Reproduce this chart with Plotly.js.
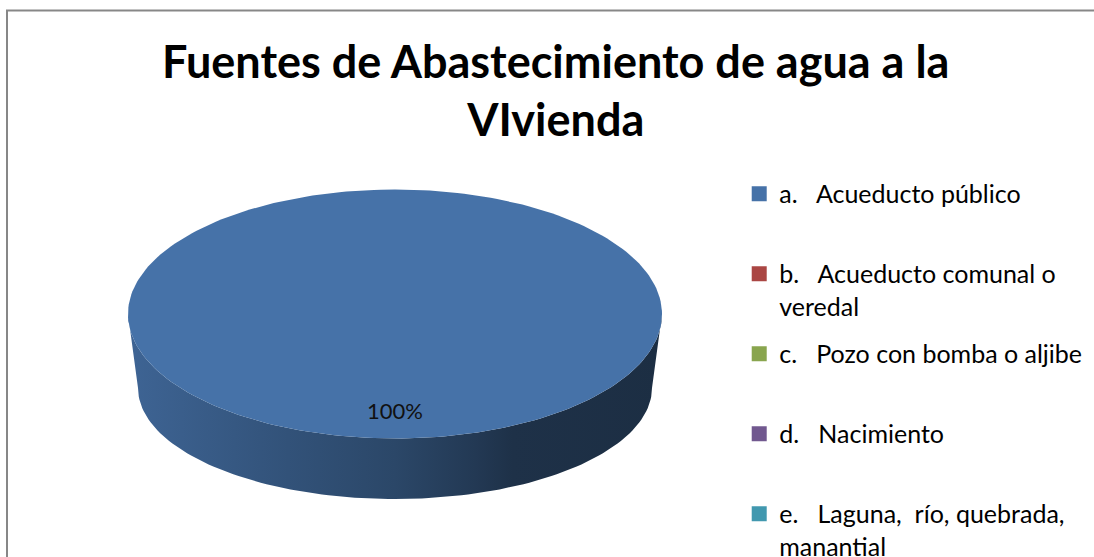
<!DOCTYPE html>
<html><head><meta charset="utf-8">
<script src="https://cdn.plot.ly/plotly-3.0.1.min.js"></script>
<style>html,body{margin:0;padding:0;background:#fff;} #chart{width:1094px;height:557px;}</style>
</head><body><div id="chart"></div>
<script>
// ---- data ----
const categories = [
  "a.\u00a0\u00a0\u00a0Acueducto público",
  "b.\u00a0\u00a0\u00a0Acueducto comunal o<br>veredal",
  "c.\u00a0\u00a0\u00a0Pozo con bomba o aljibe",
  "d.\u00a0\u00a0\u00a0Nacimiento",
  "e.\u00a0\u00a0\u00a0Laguna,\u00a0\u00a0río, quebrada,<br>manantial"
];
const values = [100, 0, 0, 0, 0];
const colors = ["#4672A8", "#AA4643", "#89A54E", "#71588F", "#4198AF"];
const titleText = "Fuentes de Abastecimiento de agua a la<br>VIvienda";

// ---- geometry of the 3D pie (pixel-like axis units) ----
const topE = {cx: 395, cy: 314, rx: 267, ry: 124.5};
const botE = {cx: 395, cy: 388, rx: 257, ry: 111};

function pt(e, deg, f) {
  const t = deg * Math.PI / 180; f = f || 1;
  return [e.cx + f * e.rx * Math.sin(t), e.cy - f * e.ry * Math.cos(t)];
}
function arc(e, a, b) {
  const n = Math.max(2, Math.ceil(Math.abs(b - a) / 1.5));
  const xs = [], ys = [];
  for (let i = 0; i <= n; i++) { const p = pt(e, a + (b - a) * i / n); xs.push(p[0]); ys.push(p[1]); }
  return [xs, ys];
}
function shade(hex, f) {
  const r = parseInt(hex.slice(1,3),16), g = parseInt(hex.slice(3,5),16), b = parseInt(hex.slice(5,7),16);
  return `rgb(${Math.round(r*f)},${Math.round(g*f)},${Math.round(b*f)})`;
}
const wallStops = [[0,0.88],[0.3,0.72],[0.5,0.62],[0.65,0.5],[0.72,0.43],[1,0.40]];

const total = values.reduce((s,v)=>s+v,0);
const traces = [];
let acc = 0;
const labelX = [], labelY = [], labelT = [];
values.forEach((v, i) => {
  if (v <= 0) return;
  const a = acc / total * 360, b = (acc + v) / total * 360;
  acc += v;
  // front wall
  const s = Math.max(a, 90), e = Math.min(b, 270);
  if (s < e) {
    const t1 = arc(topE, s, e), t2 = arc(botE, e, s);
    traces.push({
      type: "scatter", mode: "lines", x: t1[0].concat(t2[0]), y: t1[1].concat(t2[1]),
      fill: "toself", line: {width: 0}, hoverinfo: "skip", showlegend: false,
      fillgradient: {type: "horizontal", colorscale: wallStops.map(st => [st[0], shade(colors[i], st[1])])}
    });
  }
  // top face
  let xs, ys;
  if (b - a >= 360) { [xs, ys] = arc(topE, a, b); }
  else { const ar = arc(topE, a, b); xs = [topE.cx].concat(ar[0], [topE.cx]); ys = [topE.cy].concat(ar[1], [topE.cy]); }
  traces.push({type: "scatter", mode: "lines", x: xs, y: ys, fill: "toself", fillcolor: colors[i],
    line: {width: 0}, hoverinfo: "skip", showlegend: false});
  const m = pt(topE, (a + b) / 2, 0.8);
  labelX.push(m[0]); labelY.push(m[1]); labelT.push(Math.round(v / total * 100) + "%");
});
traces.push({type: "scatter", mode: "text", x: labelX, y: labelY, text: labelT,
  textfont: {family: "Lato, sans-serif", size: 22, color: "#111"}, hoverinfo: "skip", showlegend: false});

// legend entries
categories.forEach((c, i) => {
  const label = c.indexOf("<br>") >= 0 ? c : c + "<br>\u00a0";
  traces.push({type: "scatter", mode: "markers", x: [null], y: [null], name: label,
    legendgroup: "g" + i, marker: {symbol: "square", size: 15, color: colors[i]}, hoverinfo: "skip"});
});

const layout = {
  width: 1094, height: 557,
  margin: {l: 0, r: 0, t: 0, b: 0, autoexpand: false},
  paper_bgcolor: "#fff", plot_bgcolor: "#fff",
  title: {text: titleText, x: 0.508, xanchor: "center", y: 0.86, yanchor: "top",
    font: {family: "Lato, sans-serif", size: 45, color: "#000", weight: "bold"}},
  xaxis: {range: [0, 1094], visible: false, fixedrange: true},
  yaxis: {range: [557, 0], visible: false, fixedrange: true},
  showlegend: true,
  legend: {x: 0.6757, y: 0.693, xanchor: "left", yanchor: "top", valign: "top",
    tracegroupgap: 12, itemclick: false, itemdoubleclick: false,
    font: {family: "Lato, sans-serif", size: 25, color: "#000"}, bgcolor: "rgba(0,0,0,0)"},
  shapes: [{type: "rect", xref: "x", yref: "y", x0: 7, x1: 1200, y0: 10.5, y1: 700,
    line: {color: "#878787", width: 2}, fillcolor: "rgba(0,0,0,0)"}]
};
Plotly.newPlot("chart", traces, layout, {displayModeBar: false, staticPlot: true});
</script>
</body></html>
